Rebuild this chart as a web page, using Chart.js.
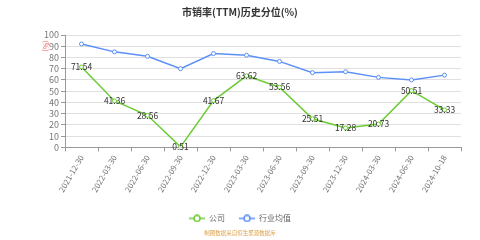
<!DOCTYPE html>
<html>
<head>
<meta charset="utf-8">
<script src="https://cdn.jsdelivr.net/npm/chart.js@4"></script>
<style>
  html, body { margin: 0; padding: 0; background: #fff; }
  #wrap { width: 480px; height: 240px; }
</style>
</head>
<body>
<div id="wrap"><canvas id="myChart" width="480" height="240"></canvas></div>
<script>
const dates = ["2021-12-30", "2022-03-30", "2022-06-30", "2022-09-30", "2022-12-30", "2023-03-30",
  "2023-06-30", "2023-09-30", "2023-12-30", "2024-03-30", "2024-06-30", "2024-10-18"];
const company = [71.54, 41.36, 28.56, 0.51, 41.67, 63.62, 53.56, 25.51, 17.28, 20.73, 50.51, 33.33];
const industry = [92, 85, 81, 70, 83.5, 82, 76.5, 66.5, 67.3, 62.3, 60, 64.3];
const yTicks = [0, 10, 20, 30, 40, 50, 60, 70, 80, 90, 100];

const FONT = "'Noto Sans CJK SC', 'Noto Sans', sans-serif";
const GREEN = "#6ccb34";
const BLUE = "#5b8ff9";

// legend marker: short line with a hollow circle
function marker(color) {
  const c = document.createElement("canvas");
  c.width = 16;
  c.height = 8;
  const g = c.getContext("2d");
  g.strokeStyle = color;
  g.lineWidth = 1.5;
  g.beginPath();
  g.moveTo(0, 4);
  g.lineTo(16, 4);
  g.stroke();
  g.fillStyle = "#fff";
  g.beginPath();
  g.arc(8, 4, 3, 0, Math.PI * 2);
  g.fill();
  g.stroke();
  return c;
}

const valueLabels = {
  id: "valueLabels",
  afterDatasetsDraw(chart) {
    const { ctx } = chart;
    const meta = chart.getDatasetMeta(0);
    ctx.save();
    ctx.font = "8.5px " + FONT;
    ctx.fillStyle = "#333";
    ctx.textAlign = "center";
    ctx.textBaseline = "middle";
    meta.data.forEach((pt, i) => {
      ctx.fillText(company[i].toFixed(2), pt.x, pt.y);
    });
    ctx.restore();
  },
};

const unitLabel = {
  id: "unitLabel",
  afterDraw(chart) {
    const { ctx } = chart;
    ctx.save();
    ctx.translate(45.5, 46);
    ctx.rotate(Math.PI / 2);
    ctx.font = "7px " + FONT;
    ctx.fillStyle = "#f25c5c";
    ctx.textAlign = "center";
    ctx.textBaseline = "middle";
    ctx.fillText("(%)", 0, 0);
    ctx.restore();
  },
};

const ctx = document.getElementById("myChart");
new Chart(ctx, {
  type: "line",
  data: {
    labels: dates,
    datasets: [
      {
        label: "公司",
        data: company,
        borderColor: GREEN,
        backgroundColor: "#fff",
        borderWidth: 1.5,
        pointRadius: 2,
        pointBorderWidth: 1,
        pointBackgroundColor: "#fff",
        tension: 0,
      },
      {
        label: "行业均值",
        data: industry,
        borderColor: BLUE,
        backgroundColor: "#fff",
        borderWidth: 1.5,
        pointRadius: 2,
        pointBorderWidth: 1,
        pointBackgroundColor: "#fff",
        tension: 0,
      },
    ],
  },
  options: {
    responsive: false,
    animation: false,
    layout: { padding: { left: 19, right: 19, top: 0, bottom: 0 } },
    plugins: {
      title: {
        display: true,
        text: "市销率(TTM)历史分位(%)",
        color: "#333",
        font: { family: FONT, size: 10, weight: "bold" },
        padding: { top: 6, bottom: 17 },
      },
      subtitle: {
        display: true,
        position: "bottom",
        text: "制图数据来自恒生聚源数据库",
        color: "#dda24a",
        font: { family: FONT, size: 5.5 },
        padding: { top: -3, bottom: 4 },
      },
      legend: {
        position: "bottom",
        labels: {
          color: "#666",
          font: { family: FONT, size: 8 },
          usePointStyle: true,
          pointStyleWidth: 16,
          boxHeight: 8,
          padding: 14,
          generateLabels(chart) {
            const items = Chart.defaults.plugins.legend.labels.generateLabels(chart);
            items.forEach((it, i) => {
              it.pointStyle = marker(i === 0 ? GREEN : BLUE);
            });
            return items;
          },
        },
      },
      tooltip: { enabled: false },
    },
    scales: {
      x: {
        offset: true,
        grid: {
          offset: true,
          drawOnChartArea: false,
          drawTicks: true,
          tickLength: 4,
          tickColor: "#999",
        },
        border: { color: "#999" },
        ticks: {
          color: "#777",
          font: { family: FONT, size: 8 },
          maxRotation: 60,
          minRotation: 60,
          autoSkip: false,
          padding: 2,
        },
        afterFit(scale) {
          scale.height = 53;
        },
      },
      y: {
        min: 0,
        max: 100,
        afterBuildTicks(scale) {
          scale.ticks = yTicks.map((v) => ({ value: v }));
        },
        grid: {
          color: "#e0e0e0",
          borderDash: [3, 3],
          tickLength: 4,
          tickColor: "#999",
          tickBorderDash: [],
        },
        border: { color: "#999" },
        ticks: {
          color: "#777",
          font: { family: FONT, size: 9 },
          padding: 2,
          autoSkip: false,
        },
        afterFit(scale) {
          scale.width = 46;
        },
      },
    },
  },
  plugins: [valueLabels, unitLabel],
});
</script>
</body>
</html>
